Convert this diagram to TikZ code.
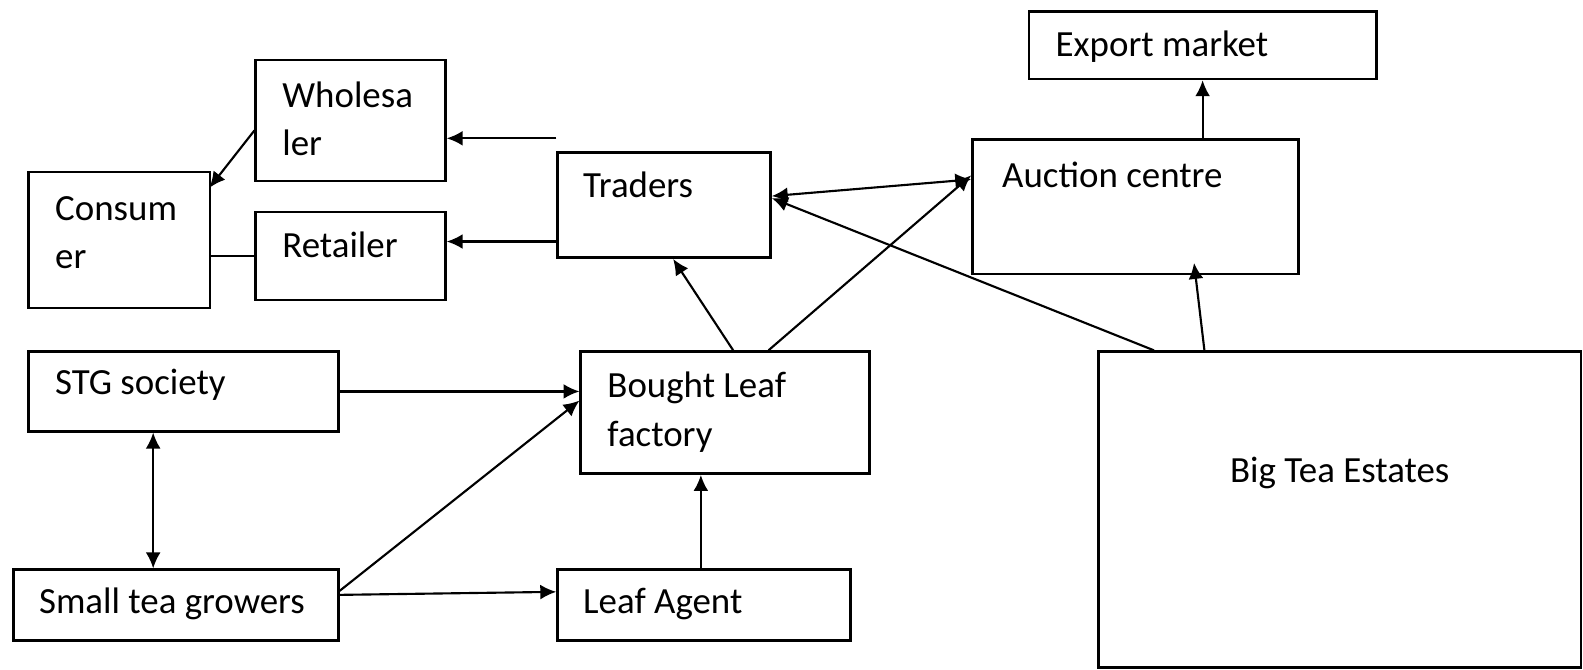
\documentclass[tikz,border=0pt]{standalone}
\usepackage{fontspec}
\setmainfont{Carlito}
\usetikzlibrary{arrows.meta}

\begin{document}
\begin{tikzpicture}[x=0.1mm,y=-0.1mm,
            box/.style={draw,line width=0.7pt,inner sep=0pt,anchor=north west},
            txt/.style={inner sep=0pt,anchor=base west,align=left,
                font=\fontsize{10.4}{13.6}\selectfont},
            arr/.style={line width=0.6pt,-{Latex[length=4.5pt,width=4.2pt]}},
            dbl/.style={line width=0.6pt,{Latex[length=4.5pt,width=4.2pt]}-{Latex[length=4.5pt,width=4.2pt]}}]
            \useasboundingbox (0,0) rectangle (1568,663);
            \node[box,minimum width=34.4mm,minimum height=6.7mm] (exp) at (1018,10) {};
            \node[box,minimum width=18.8mm,minimum height=12.0mm] (whl) at (252,58) {};
            \node[box,minimum width=21.1mm,minimum height=10.4mm] (trd) at (551,150) {};
            \node[box,minimum width=32.3mm,minimum height=13.3mm] (auc) at (962,137) {};
            \node[box,minimum width=18.0mm,minimum height=13.5mm] (con) at (27,169) {};
            \node[box,minimum width=18.8mm,minimum height=8.7mm] (ret) at (252,209) {};
            \node[box,minimum width=30.7mm,minimum height=7.9mm] (stg) at (27,347) {};
            \node[box,minimum width=28.6mm,minimum height=12.1mm] (blf) at (574,347) {};
            \node[box,minimum width=47.8mm,minimum height=31.3mm] (bte) at (1087,347) {};
            \node[box,minimum width=32.2mm,minimum height=7.0mm] (sml) at (12,563) {};
            \node[box,minimum width=29.0mm,minimum height=7.0mm] (lag) at (551,563) {};
            \node[txt] (expT) at (1045,56) {Export market};
            \node[txt] (whlT) at (279,154) {Wholesa\\ler};
            \node[txt] (trdT) at (577,196) {Traders};
            \node[txt] (aucT) at (992,186) {Auction centre};
            \node[txt] (conT) at (54,266) {Consum\\er};
            \node[txt] (retT) at (279,255) {Retailer};
            \node[txt] (stgT) at (54,391) {STG society};
            \node[txt] (blfT) at (601,442) {Bought Leaf\\factory};
            \node[txt,anchor=base] (bteT) at (1327,478) {Big Tea Estates};
            \node[txt] (smlT) at (38,608) {Small tea growers};
            \node[txt] (lagT) at (577,608) {Leaf Agent};
            \coordinate (wfree) at ([shift={(0,-13)}]trd.north west);
            \coordinate (rfrom) at ([shift={(0,36)}]trd.west);
            \draw[arr] (wfree) -- (whl.east |- wfree);
            \draw[arr] (rfrom) -- (ret.east |- rfrom);
            \draw[arr] ([shift={(0,10)}]whl.west) -- ([shift={(-2,17)}]con.north east);
            \draw[line width=0.6pt] (ret.west) -- (con.east |- ret.west);
            \draw[dbl] ([shift={(0,-9)}]trd.east) -- ([shift={(0,-27)}]auc.west);
            \draw[arr] ([shift={(8,0)}]blf.north) -- ([shift={(9,0)}]trd.south);
            \draw[arr] ([shift={(43,0)}]blf.north) -- ([shift={(0,-31)}]auc.west);
            \draw[arr] ([shift={(56,0)}]bte.north west) -- ([shift={(0,-7)}]trd.east);
            \draw[arr] ([shift={(106,0)}]bte.north west) -- ([shift={(58,-12)}]auc.south);
            \draw[arr] (exp.south |- auc.north) -- (exp.south);
            \draw[dbl] ([shift={(-30,0)}]stg.south) -- ([shift={(-30,0)}]stg.south |- sml.north);
            \draw[arr] (stg.east) -- (blf.west |- stg.east);
            \draw[arr] ([shift={(0,-14)}]sml.east) -- ([shift={(0,-12)}]blf.west);
            \draw[arr] ([shift={(0,-10)}]sml.east) -- ([shift={(0,-13)}]lag.west);
            \draw[arr] ([shift={(-3,0)}]lag.north) -- ([shift={(-3,0)}]lag.north |- blf.south);
        \end{tikzpicture}
\end{document}
